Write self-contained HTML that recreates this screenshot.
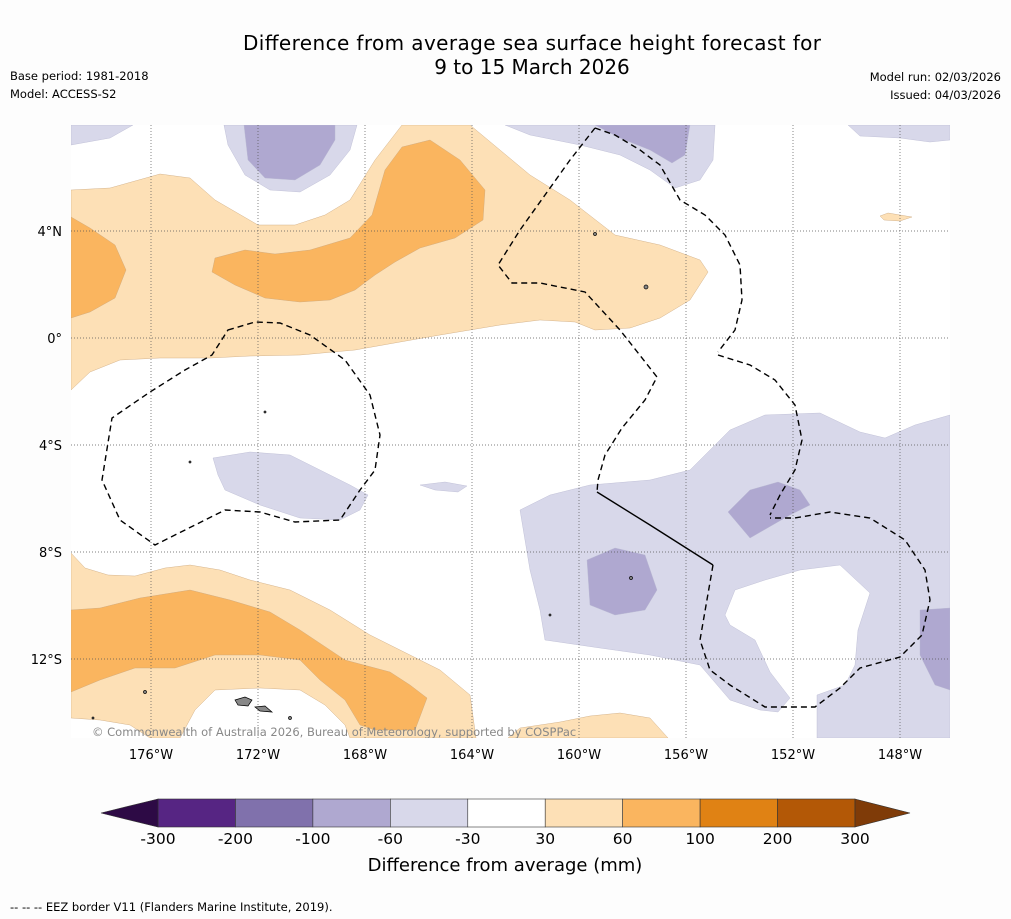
<!DOCTYPE html>
<html><head><meta charset="utf-8"><style>
body{margin:0;background:#fff;width:1011px;height:919px;overflow:hidden;font-family:"DejaVu Sans","Liberation Sans",sans-serif}
svg{display:block}
</style></head><body>
<svg id="s" width="1011" height="919" viewBox="0 0 1011 919">
<rect x="0" y="0" width="1011" height="919" fill="#fdfdfd"/>
<text x="532" y="50" font-size="20" text-anchor="middle" textLength="578">Difference from average sea surface height forecast for</text>
<text x="532" y="74" font-size="20" text-anchor="middle">9 to 15 March 2026</text>
<text x="10" y="80" font-size="11.5">Base period: 1981-2018</text>
<text x="10" y="98" font-size="11.5">Model: ACCESS-S2</text>
<text x="1001" y="81" font-size="11.5" text-anchor="end">Model run: 02/03/2026</text>
<text x="1001" y="99" font-size="11.5" text-anchor="end">Issued: 04/03/2026</text>
<clipPath id="mc"><rect x="71" y="125" width="879" height="613"/></clipPath>
<g clip-path="url(#mc)">
<rect x="71" y="125" width="879" height="613" fill="#fff"/>
<g stroke="#c9a57a" stroke-width="0.4">
<path fill="#fde0b6" d="M71,190 L110,188 160,174 190,178 215,200 258,225 295,225 325,215 350,200 375,160 402,125 470,125 500,150 530,175 570,200 615,235 660,245 700,260 708,272 690,300 660,318 630,328 595,330 575,322 540,320 500,325 470,330 440,335 400,342 355,350 300,355 250,356 210,358 160,358 120,360 90,372 71,390Z"/>
<path fill="#fab55f" d="M71,217 L90,228 115,245 126,270 115,298 90,312 71,318Z"/>
<path fill="#fab55f" d="M215,258 L245,250 275,254 310,250 350,238 372,215 385,170 402,147 430,140 460,160 485,190 483,220 455,238 420,248 395,262 375,275 355,290 330,300 300,302 265,298 235,285 212,272Z"/>
<path fill="#fde0b6" d="M880,216 L888,213 912,217 900,221 884,220Z"/>
<path fill="#fde0b6" d="M71,553 L85,568 108,575 135,576 165,568 190,565 220,570 250,580 290,590 330,610 370,635 410,655 440,670 470,695 476,738 350,738 345,725 325,705 300,690 260,688 215,690 195,710 180,738 150,738 130,725 100,720 71,718Z"/>
<path fill="#fab55f" d="M71,610 L100,608 140,598 190,590 230,600 270,612 300,630 345,660 390,672 410,685 427,698 415,730 375,730 360,725 345,700 320,680 300,660 260,655 215,655 175,668 135,668 100,680 71,692Z"/>
<path fill="#fde0b6" d="M508,738 L520,728 560,722 590,716 620,713 650,718 668,738Z"/>
</g>
<g stroke="#b8b8d0" stroke-width="0.4">
<path fill="#d8d8ea" d="M71,125 L133,125 110,138 71,145Z"/>
<path fill="#d8d8ea" d="M224,125 L357,125 350,150 330,175 300,192 270,190 245,175 228,145Z"/>
<path fill="#afa8d0" d="M244,125 L335,125 335,140 320,165 295,180 265,178 248,160Z"/>
<path fill="#d8d8ea" d="M505,125 L715,125 713,160 700,180 675,188 650,170 620,155 580,145 530,135Z"/>
<path fill="#afa8d0" d="M595,125 L690,125 685,155 672,163 650,150 620,138Z"/>
<path fill="#d8d8ea" d="M848,125 L950,125 950,140 930,142 900,138 860,136Z"/>
<path fill="#d8d8ea" d="M213,458 L250,452 290,455 320,470 350,485 368,495 360,510 340,520 300,518 260,505 225,490 218,475Z"/>
<path fill="#d8d8ea" d="M420,485 L445,482 467,486 458,492 435,490Z"/>
<path fill="#d8d8ea" d="M520,510 L550,495 590,485 650,480 690,470 710,450 730,430 765,415 820,413 860,432 885,438 915,425 950,415 950,738 817,738 817,695 845,685 855,665 858,630 870,593 840,565 800,570 765,580 735,590 725,615 730,625 755,640 770,672 790,698 778,712 760,710 730,700 700,665 650,655 600,648 545,640 540,610 530,570Z"/>
<path fill="#afa8d0" d="M587,560 L615,548 645,555 657,590 645,610 615,615 590,605Z"/>
<path fill="#afa8d0" d="M728,512 L750,490 778,482 800,490 810,505 790,515 750,538Z"/>
<path fill="#afa8d0" d="M920,610 L950,608 950,690 935,685 920,655Z"/>
</g>
<g id="grid" stroke="#555" stroke-width="0.7" stroke-dasharray="1,2"></g>
<g fill="none" stroke="#000" stroke-width="1.4" stroke-dasharray="6,4">
<path d="M595,128 L615,135 640,150 660,165 680,200 705,215 725,235 740,265 742,300 735,330 718,352"/>
<path d="M718,355 L750,365 775,380 795,405 802,440 795,470 780,495 770,515"/>
<path d="M595,128 L570,160 545,195 520,230 498,265 512,283 540,283 585,292 620,330 657,377 645,400 622,428 605,455 598,480 597,492"/>
<path d="M713,565 L700,640 710,670 730,685 765,707 815,707 840,688 860,668 900,657 922,635 930,600 925,570 905,540 870,518 830,512 795,518 770,518"/>
<path d="M228,330 L255,322 280,323 310,335 345,360 370,395 380,435 375,470 360,490 340,520 295,522 260,512 225,510 155,545 120,520 102,480 112,418 150,392 185,370 212,355Z"/>
</g>
<path d="M597,492 L650,525 713,565" fill="none" stroke="#000" stroke-width="1.4"/>
<g fill="#888" stroke="#000" stroke-width="0.7">
<path d="M235,700 L245,697 252,700 248,706 238,705Z"/><path d="M255,707 L265,706 272,712 260,711Z"/>
<circle cx="646" cy="287" r="2"/><circle cx="595" cy="234" r="1.5"/><circle cx="145" cy="692" r="1.5"/><circle cx="631" cy="578" r="1.5"/><circle cx="290" cy="718" r="1.5"/><circle cx="265" cy="412" r="1"/><circle cx="190" cy="462" r="1"/><circle cx="93" cy="718" r="1"/><circle cx="550" cy="615" r="1"/>
</g>
<text x="92" y="736" font-size="11.5" fill="#888">© Commonwealth of Australia 2026, Bureau of Meteorology, supported by COSPPac</text>
</g>
<g id="axes"></g>
<g id="cbar"></g>
<text x="505" y="871" font-size="18" text-anchor="middle">Difference from average (mm)</text>
<text x="10" y="911" font-size="11.5">--  --  -- EEZ border V11 (Flanders Marine Institute, 2019).</text>
</svg>
<script>
const lonTicks=[-176,-172,-168,-164,-160,-156,-152,-148];
const latTicks=[4,0,-4,-8,-12];
const levels=[-300,-200,-100,-60,-30,30,60,100,200,300];
const levelColors=["#562583","#8071ac","#afa8d0","#d8d8ea","#ffffff","#fde0b6","#fab55f","#e08214","#b35806"];
const extColors=["#2d0a45","#7f3b08"];
const NS="http://www.w3.org/2000/svg";
function X(lon){return 151+(lon+176)*26.75;}
function Y(lat){return 338-lat*26.75;}
function mk(t,a,p){const e=document.createElementNS(NS,t);for(const k in a)e.setAttribute(k,a[k]);p.appendChild(e);return e;}
const g=document.getElementById('grid'),ax=document.getElementById('axes');
lonTicks.forEach(l=>{const x=X(l);
const ln=mk('line',{x1:x,y1:125,x2:x,y2:738},g);


const t=mk('text',{x:x,y:759,'font-size':13,'text-anchor':'middle'},ax);t.textContent=Math.abs(l)+'°W';

});
latTicks.forEach(l=>{const y=Y(l);
const ln=mk('line',{x1:71,y1:y,x2:950,y2:y},g);


const t=mk('text',{x:62,y:y+5,'font-size':13,'text-anchor':'end'},ax);t.textContent=l==0?'0°':Math.abs(l)+'°'+(l>0?'N':'S');

});
const cb=document.getElementById('cbar');
const x0=158,x1=855,y0=799,h=28,n=levelColors.length,w=(x1-x0)/n;
levelColors.forEach((c,i)=>{const r=mk('rect',{x:x0+i*w,y:y0,width:w,height:h,fill:c,stroke:'#333','stroke-width':0.6},cb);

});
const tl=mk('path',{d:`M${x0},${y0} L101,${y0+h/2} L${x0},${y0+h}Z`,fill:extColors[0],stroke:'#333','stroke-width':0.6},cb);


const tr=mk('path',{d:`M${x1},${y0} L910,${y0+h/2} L${x1},${y0+h}Z`,fill:extColors[1],stroke:'#333','stroke-width':0.6},cb);


levels.forEach((v,i)=>{const t=mk('text',{x:x0+i*w,y:844,'font-size':15.5,'text-anchor':'middle'},cb);t.textContent=v;

});
</script>
</body></html>
